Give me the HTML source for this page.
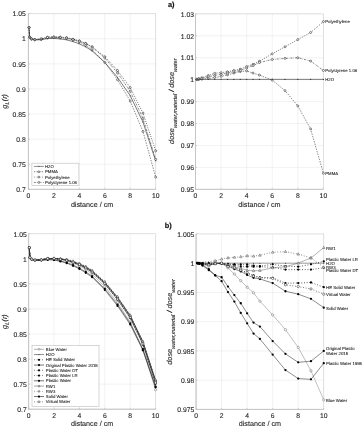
<!DOCTYPE html>
<html><head><meta charset="utf-8"><title>figure</title>
<style>
html,body{margin:0;padding:0;background:#fff;}
body{width:363px;height:430px;overflow:hidden;font-family:"Liberation Sans",sans-serif;}
svg{display:block;font-family:"Liberation Sans",sans-serif;text-rendering:geometricPrecision;}
</style></head><body>
<svg width="363" height="430" viewBox="0 0 363 430">
<defs><filter id="bl" x="0" y="0" width="363" height="430" filterUnits="userSpaceOnUse"><feGaussianBlur stdDeviation="0.45"/></filter></defs>
<rect width="363" height="430" fill="#fff"/>
<g filter="url(#bl)">
<rect width="363" height="430" fill="#fff"/>
<line x1="28.40" y1="13.7" x2="28.40" y2="189.3" stroke="#e4e4e4" stroke-width="0.5"/>
<line x1="53.86" y1="13.7" x2="53.86" y2="189.3" stroke="#e4e4e4" stroke-width="0.5"/>
<line x1="79.32" y1="13.7" x2="79.32" y2="189.3" stroke="#e4e4e4" stroke-width="0.5"/>
<line x1="104.78" y1="13.7" x2="104.78" y2="189.3" stroke="#e4e4e4" stroke-width="0.5"/>
<line x1="130.24" y1="13.7" x2="130.24" y2="189.3" stroke="#e4e4e4" stroke-width="0.5"/>
<line x1="155.70" y1="13.7" x2="155.70" y2="189.3" stroke="#e4e4e4" stroke-width="0.5"/>
<line x1="28.4" y1="189.30" x2="155.7" y2="189.30" stroke="#e4e4e4" stroke-width="0.5"/>
<line x1="28.4" y1="164.21" x2="155.7" y2="164.21" stroke="#e4e4e4" stroke-width="0.5"/>
<line x1="28.4" y1="139.13" x2="155.7" y2="139.13" stroke="#e4e4e4" stroke-width="0.5"/>
<line x1="28.4" y1="114.04" x2="155.7" y2="114.04" stroke="#e4e4e4" stroke-width="0.5"/>
<line x1="28.4" y1="88.96" x2="155.7" y2="88.96" stroke="#e4e4e4" stroke-width="0.5"/>
<line x1="28.4" y1="63.87" x2="155.7" y2="63.87" stroke="#e4e4e4" stroke-width="0.5"/>
<line x1="28.4" y1="38.79" x2="155.7" y2="38.79" stroke="#e4e4e4" stroke-width="0.5"/>
<line x1="28.4" y1="13.70" x2="155.7" y2="13.70" stroke="#e4e4e4" stroke-width="0.5"/>
<rect x="28.4" y="13.7" width="127.30" height="175.60" fill="none" stroke="#cfcfcf" stroke-width="0.5"/>
<path d="M28.4 13.7V189.3H155.7" fill="none" stroke="#c2c2c2" stroke-width="0.9"/>
<line x1="28.40" y1="189.3" x2="28.40" y2="187.8" stroke="#bcbcbc" stroke-width="0.6"/>
<text x="28.40" y="197.70" font-size="6.8" text-anchor="middle" fill="#262626" stroke="#262626" stroke-width="0.1">0</text>
<line x1="53.86" y1="189.3" x2="53.86" y2="187.8" stroke="#bcbcbc" stroke-width="0.6"/>
<text x="53.86" y="197.70" font-size="6.8" text-anchor="middle" fill="#262626" stroke="#262626" stroke-width="0.1">2</text>
<line x1="79.32" y1="189.3" x2="79.32" y2="187.8" stroke="#bcbcbc" stroke-width="0.6"/>
<text x="79.32" y="197.70" font-size="6.8" text-anchor="middle" fill="#262626" stroke="#262626" stroke-width="0.1">4</text>
<line x1="104.78" y1="189.3" x2="104.78" y2="187.8" stroke="#bcbcbc" stroke-width="0.6"/>
<text x="104.78" y="197.70" font-size="6.8" text-anchor="middle" fill="#262626" stroke="#262626" stroke-width="0.1">6</text>
<line x1="130.24" y1="189.3" x2="130.24" y2="187.8" stroke="#bcbcbc" stroke-width="0.6"/>
<text x="130.24" y="197.70" font-size="6.8" text-anchor="middle" fill="#262626" stroke="#262626" stroke-width="0.1">8</text>
<line x1="155.70" y1="189.3" x2="155.70" y2="187.8" stroke="#bcbcbc" stroke-width="0.6"/>
<text x="155.70" y="197.70" font-size="6.8" text-anchor="middle" fill="#262626" stroke="#262626" stroke-width="0.1">10</text>
<line x1="28.4" y1="189.30" x2="29.9" y2="189.30" stroke="#bcbcbc" stroke-width="0.6"/>
<text x="25.80" y="192.00" font-size="6.8" text-anchor="end" fill="#262626" stroke="#262626" stroke-width="0.1">0.7</text>
<line x1="28.4" y1="164.21" x2="29.9" y2="164.21" stroke="#bcbcbc" stroke-width="0.6"/>
<text x="25.80" y="166.91" font-size="6.8" text-anchor="end" fill="#262626" stroke="#262626" stroke-width="0.1">0.75</text>
<line x1="28.4" y1="139.13" x2="29.9" y2="139.13" stroke="#bcbcbc" stroke-width="0.6"/>
<text x="25.80" y="141.83" font-size="6.8" text-anchor="end" fill="#262626" stroke="#262626" stroke-width="0.1">0.8</text>
<line x1="28.4" y1="114.04" x2="29.9" y2="114.04" stroke="#bcbcbc" stroke-width="0.6"/>
<text x="25.80" y="116.74" font-size="6.8" text-anchor="end" fill="#262626" stroke="#262626" stroke-width="0.1">0.85</text>
<line x1="28.4" y1="88.96" x2="29.9" y2="88.96" stroke="#bcbcbc" stroke-width="0.6"/>
<text x="25.80" y="91.66" font-size="6.8" text-anchor="end" fill="#262626" stroke="#262626" stroke-width="0.1">0.9</text>
<line x1="28.4" y1="63.87" x2="29.9" y2="63.87" stroke="#bcbcbc" stroke-width="0.6"/>
<text x="25.80" y="66.57" font-size="6.8" text-anchor="end" fill="#262626" stroke="#262626" stroke-width="0.1">0.95</text>
<line x1="28.4" y1="38.79" x2="29.9" y2="38.79" stroke="#bcbcbc" stroke-width="0.6"/>
<text x="25.80" y="41.49" font-size="6.8" text-anchor="end" fill="#262626" stroke="#262626" stroke-width="0.1">1</text>
<line x1="28.4" y1="13.70" x2="29.9" y2="13.70" stroke="#bcbcbc" stroke-width="0.6"/>
<text x="25.80" y="16.40" font-size="6.8" text-anchor="end" fill="#262626" stroke="#262626" stroke-width="0.1">1.05</text>
<text x="92.05" y="207.00" font-size="7.2" text-anchor="middle" fill="#262626" stroke="#262626" stroke-width="0.1">distance / cm</text>
<polyline points="29.04,27.50 29.67,37.28 31.58,39.09 34.77,39.84 41.13,39.44 47.49,38.03 53.86,37.63 60.22,37.78 66.59,38.29 72.95,39.70 79.32,41.82 85.69,45.33 92.05,49.80 104.78,62.46 117.51,79.73 130.24,101.07 142.97,131.48 155.70,177.16" fill="none" stroke="#222" stroke-width="0.55" stroke-dasharray="1.4 1.2"/>
<polyline points="29.04,27.50 29.67,37.18 31.58,38.89 34.77,39.49 41.13,38.74 47.49,37.08 53.86,36.78 60.22,37.08 66.59,37.69 72.95,39.15 79.32,40.82 85.69,43.36 92.05,46.71 104.78,56.72 117.51,70.47 130.24,87.59 142.97,113.07 155.70,150.90" fill="none" stroke="#222" stroke-width="0.8" stroke-dasharray="0.8 1.5"/>
<polyline points="29.04,27.50 29.67,37.23 31.58,38.99 34.77,39.64 41.13,39.04 47.49,37.53 53.86,37.18 60.22,37.38 66.59,37.99 72.95,39.45 79.32,41.17 85.69,43.65 92.05,47.01 104.78,57.97 117.51,72.93 130.24,91.28 142.97,118.51 155.70,159.36" fill="none" stroke="#222" stroke-width="0.55" stroke-dasharray="2 1 0.6 1"/>
<polyline points="29.04,27.50 29.67,37.28 31.58,39.14 34.77,39.94 41.13,39.69 47.49,38.53 53.86,38.38 60.22,38.89 66.59,39.79 72.95,41.55 79.32,43.80 85.69,46.81 92.05,50.83 104.78,62.37 117.51,77.42 130.24,95.73 142.97,122.07 155.70,160.95" fill="none" stroke="#333" stroke-width="0.65"/>
<circle cx="29.04" cy="27.50" r="1.0" fill="#fff" stroke="#222" stroke-width="0.55"/>
<circle cx="29.67" cy="37.28" r="1.0" fill="#fff" stroke="#222" stroke-width="0.55"/>
<circle cx="31.58" cy="39.09" r="1.0" fill="#fff" stroke="#222" stroke-width="0.55"/>
<circle cx="34.77" cy="39.84" r="1.0" fill="#fff" stroke="#222" stroke-width="0.55"/>
<circle cx="41.13" cy="39.44" r="1.0" fill="#fff" stroke="#222" stroke-width="0.55"/>
<circle cx="47.49" cy="38.03" r="1.0" fill="#fff" stroke="#222" stroke-width="0.55"/>
<circle cx="53.86" cy="37.63" r="1.0" fill="#fff" stroke="#222" stroke-width="0.55"/>
<circle cx="60.22" cy="37.78" r="1.0" fill="#fff" stroke="#222" stroke-width="0.55"/>
<circle cx="66.59" cy="38.29" r="1.0" fill="#fff" stroke="#222" stroke-width="0.55"/>
<circle cx="72.95" cy="39.70" r="1.0" fill="#fff" stroke="#222" stroke-width="0.55"/>
<circle cx="79.32" cy="41.82" r="1.0" fill="#fff" stroke="#222" stroke-width="0.55"/>
<circle cx="85.69" cy="45.33" r="1.0" fill="#fff" stroke="#222" stroke-width="0.55"/>
<circle cx="92.05" cy="49.80" r="1.0" fill="#fff" stroke="#222" stroke-width="0.55"/>
<circle cx="104.78" cy="62.46" r="1.0" fill="#fff" stroke="#222" stroke-width="0.55"/>
<circle cx="117.51" cy="79.73" r="1.0" fill="#fff" stroke="#222" stroke-width="0.55"/>
<circle cx="130.24" cy="101.07" r="1.0" fill="#fff" stroke="#222" stroke-width="0.55"/>
<circle cx="142.97" cy="131.48" r="1.0" fill="#fff" stroke="#222" stroke-width="0.55"/>
<circle cx="155.70" cy="177.16" r="1.0" fill="#fff" stroke="#222" stroke-width="0.55"/>
<circle cx="29.04" cy="27.50" r="1.0" fill="#fff" stroke="#222" stroke-width="0.55"/>
<circle cx="29.67" cy="37.18" r="1.0" fill="#fff" stroke="#222" stroke-width="0.55"/>
<circle cx="31.58" cy="38.89" r="1.0" fill="#fff" stroke="#222" stroke-width="0.55"/>
<circle cx="34.77" cy="39.49" r="1.0" fill="#fff" stroke="#222" stroke-width="0.55"/>
<circle cx="41.13" cy="38.74" r="1.0" fill="#fff" stroke="#222" stroke-width="0.55"/>
<circle cx="47.49" cy="37.08" r="1.0" fill="#fff" stroke="#222" stroke-width="0.55"/>
<circle cx="53.86" cy="36.78" r="1.0" fill="#fff" stroke="#222" stroke-width="0.55"/>
<circle cx="60.22" cy="37.08" r="1.0" fill="#fff" stroke="#222" stroke-width="0.55"/>
<circle cx="66.59" cy="37.69" r="1.0" fill="#fff" stroke="#222" stroke-width="0.55"/>
<circle cx="72.95" cy="39.15" r="1.0" fill="#fff" stroke="#222" stroke-width="0.55"/>
<circle cx="79.32" cy="40.82" r="1.0" fill="#fff" stroke="#222" stroke-width="0.55"/>
<circle cx="85.69" cy="43.36" r="1.0" fill="#fff" stroke="#222" stroke-width="0.55"/>
<circle cx="92.05" cy="46.71" r="1.0" fill="#fff" stroke="#222" stroke-width="0.55"/>
<circle cx="104.78" cy="56.72" r="1.0" fill="#fff" stroke="#222" stroke-width="0.55"/>
<circle cx="117.51" cy="70.47" r="1.0" fill="#fff" stroke="#222" stroke-width="0.55"/>
<circle cx="130.24" cy="87.59" r="1.0" fill="#fff" stroke="#222" stroke-width="0.55"/>
<circle cx="142.97" cy="113.07" r="1.0" fill="#fff" stroke="#222" stroke-width="0.55"/>
<circle cx="155.70" cy="150.90" r="1.0" fill="#fff" stroke="#222" stroke-width="0.55"/>
<circle cx="29.04" cy="27.50" r="1.0" fill="#fff" stroke="#222" stroke-width="0.55"/>
<circle cx="29.67" cy="37.23" r="1.0" fill="#fff" stroke="#222" stroke-width="0.55"/>
<circle cx="31.58" cy="38.99" r="1.0" fill="#fff" stroke="#222" stroke-width="0.55"/>
<circle cx="34.77" cy="39.64" r="1.0" fill="#fff" stroke="#222" stroke-width="0.55"/>
<circle cx="41.13" cy="39.04" r="1.0" fill="#fff" stroke="#222" stroke-width="0.55"/>
<circle cx="47.49" cy="37.53" r="1.0" fill="#fff" stroke="#222" stroke-width="0.55"/>
<circle cx="53.86" cy="37.18" r="1.0" fill="#fff" stroke="#222" stroke-width="0.55"/>
<circle cx="60.22" cy="37.38" r="1.0" fill="#fff" stroke="#222" stroke-width="0.55"/>
<circle cx="66.59" cy="37.99" r="1.0" fill="#fff" stroke="#222" stroke-width="0.55"/>
<circle cx="72.95" cy="39.45" r="1.0" fill="#fff" stroke="#222" stroke-width="0.55"/>
<circle cx="79.32" cy="41.17" r="1.0" fill="#fff" stroke="#222" stroke-width="0.55"/>
<circle cx="85.69" cy="43.65" r="1.0" fill="#fff" stroke="#222" stroke-width="0.55"/>
<circle cx="92.05" cy="47.01" r="1.0" fill="#fff" stroke="#222" stroke-width="0.55"/>
<circle cx="104.78" cy="57.97" r="1.0" fill="#fff" stroke="#222" stroke-width="0.55"/>
<circle cx="117.51" cy="72.93" r="1.0" fill="#fff" stroke="#222" stroke-width="0.55"/>
<circle cx="130.24" cy="91.28" r="1.0" fill="#fff" stroke="#222" stroke-width="0.55"/>
<circle cx="142.97" cy="118.51" r="1.0" fill="#fff" stroke="#222" stroke-width="0.55"/>
<circle cx="155.70" cy="159.36" r="1.0" fill="#fff" stroke="#222" stroke-width="0.55"/>
<path d="M28.48 26.94l1.12 1.12M28.48 28.06l1.12 -1.12" stroke="#333" stroke-width="0.4" fill="none"/>
<path d="M29.11 36.72l1.12 1.12M29.11 37.84l1.12 -1.12" stroke="#333" stroke-width="0.4" fill="none"/>
<path d="M31.02 38.58l1.12 1.12M31.02 39.70l1.12 -1.12" stroke="#333" stroke-width="0.4" fill="none"/>
<path d="M34.20 39.38l1.12 1.12M34.20 40.50l1.12 -1.12" stroke="#333" stroke-width="0.4" fill="none"/>
<path d="M40.57 39.13l1.12 1.12M40.57 40.25l1.12 -1.12" stroke="#333" stroke-width="0.4" fill="none"/>
<path d="M46.93 37.97l1.12 1.12M46.93 39.09l1.12 -1.12" stroke="#333" stroke-width="0.4" fill="none"/>
<path d="M53.30 37.82l1.12 1.12M53.30 38.94l1.12 -1.12" stroke="#333" stroke-width="0.4" fill="none"/>
<path d="M59.66 38.33l1.12 1.12M59.66 39.45l1.12 -1.12" stroke="#333" stroke-width="0.4" fill="none"/>
<path d="M66.03 39.23l1.12 1.12M66.03 40.35l1.12 -1.12" stroke="#333" stroke-width="0.4" fill="none"/>
<path d="M72.39 40.99l1.12 1.12M72.39 42.11l1.12 -1.12" stroke="#333" stroke-width="0.4" fill="none"/>
<path d="M78.76 43.24l1.12 1.12M78.76 44.36l1.12 -1.12" stroke="#333" stroke-width="0.4" fill="none"/>
<path d="M85.12 46.25l1.12 1.12M85.12 47.37l1.12 -1.12" stroke="#333" stroke-width="0.4" fill="none"/>
<path d="M91.49 50.27l1.12 1.12M91.49 51.39l1.12 -1.12" stroke="#333" stroke-width="0.4" fill="none"/>
<path d="M104.22 61.81l1.12 1.12M104.22 62.93l1.12 -1.12" stroke="#333" stroke-width="0.4" fill="none"/>
<path d="M116.95 76.86l1.12 1.12M116.95 77.98l1.12 -1.12" stroke="#333" stroke-width="0.4" fill="none"/>
<path d="M129.68 95.17l1.12 1.12M129.68 96.29l1.12 -1.12" stroke="#333" stroke-width="0.4" fill="none"/>
<path d="M142.41 121.51l1.12 1.12M142.41 122.63l1.12 -1.12" stroke="#333" stroke-width="0.4" fill="none"/>
<path d="M155.14 160.39l1.12 1.12M155.14 161.51l1.12 -1.12" stroke="#333" stroke-width="0.4" fill="none"/>
<rect x="31.9" y="163.2" width="47" height="22.4" fill="#fff" stroke="#bcbcbc" stroke-width="0.6"/>
<line x1="33.9" y1="166.40" x2="43.9" y2="166.40" stroke="#333" stroke-width="0.55"/>
<path d="M38.23 165.74l1.33 1.33M38.23 167.06l1.33 -1.33" stroke="#333" stroke-width="0.4" fill="none"/>
<text x="45.00" y="167.95" font-size="4.3" fill="#1a1a1a" stroke="#1a1a1a" stroke-width="0.08">H2O</text>
<line x1="33.9" y1="171.75" x2="43.9" y2="171.75" stroke="#222" stroke-width="0.55" stroke-dasharray="1.4 1.2"/>
<circle cx="38.90" cy="171.75" r="0.95" fill="#fff" stroke="#222" stroke-width="0.55"/>
<text x="45.00" y="173.30" font-size="4.3" fill="#1a1a1a" stroke="#1a1a1a" stroke-width="0.08">PMMA</text>
<line x1="33.9" y1="177.10" x2="43.9" y2="177.10" stroke="#222" stroke-width="0.55" stroke-dasharray="0.9 1.8"/>
<circle cx="38.90" cy="177.10" r="0.95" fill="#fff" stroke="#222" stroke-width="0.55"/>
<text x="45.00" y="178.65" font-size="4.3" fill="#1a1a1a" stroke="#1a1a1a" stroke-width="0.08">Polyethylene</text>
<line x1="33.9" y1="182.45" x2="43.9" y2="182.45" stroke="#222" stroke-width="0.55" stroke-dasharray="2 1 0.6 1"/>
<circle cx="38.90" cy="182.45" r="0.95" fill="#fff" stroke="#222" stroke-width="0.55"/>
<text x="45.00" y="184.00" font-size="4.3" fill="#1a1a1a" stroke="#1a1a1a" stroke-width="0.08">Polystyrene 1.06</text>
<line x1="195.50" y1="13.9" x2="195.50" y2="189.3" stroke="#e4e4e4" stroke-width="0.5"/>
<line x1="221.08" y1="13.9" x2="221.08" y2="189.3" stroke="#e4e4e4" stroke-width="0.5"/>
<line x1="246.66" y1="13.9" x2="246.66" y2="189.3" stroke="#e4e4e4" stroke-width="0.5"/>
<line x1="272.24" y1="13.9" x2="272.24" y2="189.3" stroke="#e4e4e4" stroke-width="0.5"/>
<line x1="297.82" y1="13.9" x2="297.82" y2="189.3" stroke="#e4e4e4" stroke-width="0.5"/>
<line x1="323.40" y1="13.9" x2="323.40" y2="189.3" stroke="#e4e4e4" stroke-width="0.5"/>
<line x1="195.5" y1="189.30" x2="323.4" y2="189.30" stroke="#e4e4e4" stroke-width="0.5"/>
<line x1="195.5" y1="167.38" x2="323.4" y2="167.38" stroke="#e4e4e4" stroke-width="0.5"/>
<line x1="195.5" y1="145.45" x2="323.4" y2="145.45" stroke="#e4e4e4" stroke-width="0.5"/>
<line x1="195.5" y1="123.53" x2="323.4" y2="123.53" stroke="#e4e4e4" stroke-width="0.5"/>
<line x1="195.5" y1="101.60" x2="323.4" y2="101.60" stroke="#e4e4e4" stroke-width="0.5"/>
<line x1="195.5" y1="79.68" x2="323.4" y2="79.68" stroke="#e4e4e4" stroke-width="0.5"/>
<line x1="195.5" y1="57.75" x2="323.4" y2="57.75" stroke="#e4e4e4" stroke-width="0.5"/>
<line x1="195.5" y1="35.83" x2="323.4" y2="35.83" stroke="#e4e4e4" stroke-width="0.5"/>
<line x1="195.5" y1="13.90" x2="323.4" y2="13.90" stroke="#e4e4e4" stroke-width="0.5"/>
<rect x="195.5" y="13.9" width="127.90" height="175.40" fill="none" stroke="#cfcfcf" stroke-width="0.5"/>
<path d="M195.5 13.9V189.3H323.4" fill="none" stroke="#c2c2c2" stroke-width="0.9"/>
<line x1="195.50" y1="189.3" x2="195.50" y2="187.8" stroke="#bcbcbc" stroke-width="0.6"/>
<text x="195.50" y="197.70" font-size="6.8" text-anchor="middle" fill="#262626" stroke="#262626" stroke-width="0.1">0</text>
<line x1="221.08" y1="189.3" x2="221.08" y2="187.8" stroke="#bcbcbc" stroke-width="0.6"/>
<text x="221.08" y="197.70" font-size="6.8" text-anchor="middle" fill="#262626" stroke="#262626" stroke-width="0.1">2</text>
<line x1="246.66" y1="189.3" x2="246.66" y2="187.8" stroke="#bcbcbc" stroke-width="0.6"/>
<text x="246.66" y="197.70" font-size="6.8" text-anchor="middle" fill="#262626" stroke="#262626" stroke-width="0.1">4</text>
<line x1="272.24" y1="189.3" x2="272.24" y2="187.8" stroke="#bcbcbc" stroke-width="0.6"/>
<text x="272.24" y="197.70" font-size="6.8" text-anchor="middle" fill="#262626" stroke="#262626" stroke-width="0.1">6</text>
<line x1="297.82" y1="189.3" x2="297.82" y2="187.8" stroke="#bcbcbc" stroke-width="0.6"/>
<text x="297.82" y="197.70" font-size="6.8" text-anchor="middle" fill="#262626" stroke="#262626" stroke-width="0.1">8</text>
<line x1="323.40" y1="189.3" x2="323.40" y2="187.8" stroke="#bcbcbc" stroke-width="0.6"/>
<text x="323.40" y="197.70" font-size="6.8" text-anchor="middle" fill="#262626" stroke="#262626" stroke-width="0.1">10</text>
<line x1="195.5" y1="189.30" x2="197.0" y2="189.30" stroke="#bcbcbc" stroke-width="0.6"/>
<text x="194.10" y="192.00" font-size="6.8" text-anchor="end" fill="#262626" stroke="#262626" stroke-width="0.1">0.95</text>
<line x1="195.5" y1="167.38" x2="197.0" y2="167.38" stroke="#bcbcbc" stroke-width="0.6"/>
<text x="194.10" y="170.07" font-size="6.8" text-anchor="end" fill="#262626" stroke="#262626" stroke-width="0.1">0.96</text>
<line x1="195.5" y1="145.45" x2="197.0" y2="145.45" stroke="#bcbcbc" stroke-width="0.6"/>
<text x="194.10" y="148.15" font-size="6.8" text-anchor="end" fill="#262626" stroke="#262626" stroke-width="0.1">0.97</text>
<line x1="195.5" y1="123.53" x2="197.0" y2="123.53" stroke="#bcbcbc" stroke-width="0.6"/>
<text x="194.10" y="126.23" font-size="6.8" text-anchor="end" fill="#262626" stroke="#262626" stroke-width="0.1">0.98</text>
<line x1="195.5" y1="101.60" x2="197.0" y2="101.60" stroke="#bcbcbc" stroke-width="0.6"/>
<text x="194.10" y="104.30" font-size="6.8" text-anchor="end" fill="#262626" stroke="#262626" stroke-width="0.1">0.99</text>
<line x1="195.5" y1="79.68" x2="197.0" y2="79.68" stroke="#bcbcbc" stroke-width="0.6"/>
<text x="194.10" y="82.38" font-size="6.8" text-anchor="end" fill="#262626" stroke="#262626" stroke-width="0.1">1</text>
<line x1="195.5" y1="57.75" x2="197.0" y2="57.75" stroke="#bcbcbc" stroke-width="0.6"/>
<text x="194.10" y="60.45" font-size="6.8" text-anchor="end" fill="#262626" stroke="#262626" stroke-width="0.1">1.01</text>
<line x1="195.5" y1="35.83" x2="197.0" y2="35.83" stroke="#bcbcbc" stroke-width="0.6"/>
<text x="194.10" y="38.53" font-size="6.8" text-anchor="end" fill="#262626" stroke="#262626" stroke-width="0.1">1.02</text>
<line x1="195.5" y1="13.90" x2="197.0" y2="13.90" stroke="#bcbcbc" stroke-width="0.6"/>
<text x="194.10" y="16.60" font-size="6.8" text-anchor="end" fill="#262626" stroke="#262626" stroke-width="0.1">1.03</text>
<text x="259.45" y="207.00" font-size="7.2" text-anchor="middle" fill="#262626" stroke="#262626" stroke-width="0.1">distance / cm</text>
<polyline points="196.78,79.68 198.70,79.46 201.90,79.24 208.29,78.58 214.69,77.48 221.08,76.39 227.47,74.85 233.87,73.10 240.26,71.56 246.66,70.91 253.06,73.10 259.45,75.07 272.24,80.11 285.03,90.64 297.82,105.99 310.61,129.01 323.40,173.29" fill="none" stroke="#222" stroke-width="0.55" stroke-dasharray="1.4 1.2"/>
<polyline points="196.78,79.24 198.70,78.58 201.90,77.70 208.29,75.51 214.69,73.32 221.08,72.66 227.47,71.78 233.87,70.47 240.26,69.15 246.66,66.52 253.06,64.33 259.45,61.26 272.24,53.80 285.03,46.79 297.82,39.55 310.61,32.54 323.40,21.57" fill="none" stroke="#222" stroke-width="0.8" stroke-dasharray="0.8 1.5"/>
<polyline points="196.78,79.46 198.70,79.02 201.90,78.36 208.29,76.82 214.69,75.29 221.08,74.41 227.47,73.10 233.87,71.78 240.26,70.47 246.66,68.05 253.06,65.64 259.45,62.57 272.24,59.50 285.03,58.41 297.82,57.75 310.61,61.04 323.40,70.47" fill="none" stroke="#222" stroke-width="0.55" stroke-dasharray="2 1 0.6 1"/>
<polyline points="195.50,79.35 323.40,79.35" fill="none" stroke="#333" stroke-width="0.65"/>
<circle cx="196.78" cy="79.68" r="1.0" fill="#fff" stroke="#222" stroke-width="0.55"/>
<circle cx="198.70" cy="79.46" r="1.0" fill="#fff" stroke="#222" stroke-width="0.55"/>
<circle cx="201.90" cy="79.24" r="1.0" fill="#fff" stroke="#222" stroke-width="0.55"/>
<circle cx="208.29" cy="78.58" r="1.0" fill="#fff" stroke="#222" stroke-width="0.55"/>
<circle cx="214.69" cy="77.48" r="1.0" fill="#fff" stroke="#222" stroke-width="0.55"/>
<circle cx="221.08" cy="76.39" r="1.0" fill="#fff" stroke="#222" stroke-width="0.55"/>
<circle cx="227.47" cy="74.85" r="1.0" fill="#fff" stroke="#222" stroke-width="0.55"/>
<circle cx="233.87" cy="73.10" r="1.0" fill="#fff" stroke="#222" stroke-width="0.55"/>
<circle cx="240.26" cy="71.56" r="1.0" fill="#fff" stroke="#222" stroke-width="0.55"/>
<circle cx="246.66" cy="70.91" r="1.0" fill="#fff" stroke="#222" stroke-width="0.55"/>
<circle cx="253.06" cy="73.10" r="1.0" fill="#fff" stroke="#222" stroke-width="0.55"/>
<circle cx="259.45" cy="75.07" r="1.0" fill="#fff" stroke="#222" stroke-width="0.55"/>
<circle cx="272.24" cy="80.11" r="1.0" fill="#fff" stroke="#222" stroke-width="0.55"/>
<circle cx="285.03" cy="90.64" r="1.0" fill="#fff" stroke="#222" stroke-width="0.55"/>
<circle cx="297.82" cy="105.99" r="1.0" fill="#fff" stroke="#222" stroke-width="0.55"/>
<circle cx="310.61" cy="129.01" r="1.0" fill="#fff" stroke="#222" stroke-width="0.55"/>
<circle cx="323.40" cy="173.29" r="1.0" fill="#fff" stroke="#222" stroke-width="0.55"/>
<circle cx="196.78" cy="79.24" r="1.0" fill="#fff" stroke="#222" stroke-width="0.55"/>
<circle cx="198.70" cy="78.58" r="1.0" fill="#fff" stroke="#222" stroke-width="0.55"/>
<circle cx="201.90" cy="77.70" r="1.0" fill="#fff" stroke="#222" stroke-width="0.55"/>
<circle cx="208.29" cy="75.51" r="1.0" fill="#fff" stroke="#222" stroke-width="0.55"/>
<circle cx="214.69" cy="73.32" r="1.0" fill="#fff" stroke="#222" stroke-width="0.55"/>
<circle cx="221.08" cy="72.66" r="1.0" fill="#fff" stroke="#222" stroke-width="0.55"/>
<circle cx="227.47" cy="71.78" r="1.0" fill="#fff" stroke="#222" stroke-width="0.55"/>
<circle cx="233.87" cy="70.47" r="1.0" fill="#fff" stroke="#222" stroke-width="0.55"/>
<circle cx="240.26" cy="69.15" r="1.0" fill="#fff" stroke="#222" stroke-width="0.55"/>
<circle cx="246.66" cy="66.52" r="1.0" fill="#fff" stroke="#222" stroke-width="0.55"/>
<circle cx="253.06" cy="64.33" r="1.0" fill="#fff" stroke="#222" stroke-width="0.55"/>
<circle cx="259.45" cy="61.26" r="1.0" fill="#fff" stroke="#222" stroke-width="0.55"/>
<circle cx="272.24" cy="53.80" r="1.0" fill="#fff" stroke="#222" stroke-width="0.55"/>
<circle cx="285.03" cy="46.79" r="1.0" fill="#fff" stroke="#222" stroke-width="0.55"/>
<circle cx="297.82" cy="39.55" r="1.0" fill="#fff" stroke="#222" stroke-width="0.55"/>
<circle cx="310.61" cy="32.54" r="1.0" fill="#fff" stroke="#222" stroke-width="0.55"/>
<circle cx="323.40" cy="21.57" r="1.0" fill="#fff" stroke="#222" stroke-width="0.55"/>
<circle cx="196.78" cy="79.46" r="1.0" fill="#fff" stroke="#222" stroke-width="0.55"/>
<circle cx="198.70" cy="79.02" r="1.0" fill="#fff" stroke="#222" stroke-width="0.55"/>
<circle cx="201.90" cy="78.36" r="1.0" fill="#fff" stroke="#222" stroke-width="0.55"/>
<circle cx="208.29" cy="76.82" r="1.0" fill="#fff" stroke="#222" stroke-width="0.55"/>
<circle cx="214.69" cy="75.29" r="1.0" fill="#fff" stroke="#222" stroke-width="0.55"/>
<circle cx="221.08" cy="74.41" r="1.0" fill="#fff" stroke="#222" stroke-width="0.55"/>
<circle cx="227.47" cy="73.10" r="1.0" fill="#fff" stroke="#222" stroke-width="0.55"/>
<circle cx="233.87" cy="71.78" r="1.0" fill="#fff" stroke="#222" stroke-width="0.55"/>
<circle cx="240.26" cy="70.47" r="1.0" fill="#fff" stroke="#222" stroke-width="0.55"/>
<circle cx="246.66" cy="68.05" r="1.0" fill="#fff" stroke="#222" stroke-width="0.55"/>
<circle cx="253.06" cy="65.64" r="1.0" fill="#fff" stroke="#222" stroke-width="0.55"/>
<circle cx="259.45" cy="62.57" r="1.0" fill="#fff" stroke="#222" stroke-width="0.55"/>
<circle cx="272.24" cy="59.50" r="1.0" fill="#fff" stroke="#222" stroke-width="0.55"/>
<circle cx="285.03" cy="58.41" r="1.0" fill="#fff" stroke="#222" stroke-width="0.55"/>
<circle cx="297.82" cy="57.75" r="1.0" fill="#fff" stroke="#222" stroke-width="0.55"/>
<circle cx="310.61" cy="61.04" r="1.0" fill="#fff" stroke="#222" stroke-width="0.55"/>
<circle cx="323.40" cy="70.47" r="1.0" fill="#fff" stroke="#222" stroke-width="0.55"/>
<circle cx="196.78" cy="79.35" r="0.7" fill="#333"/>
<circle cx="198.70" cy="79.35" r="0.7" fill="#333"/>
<circle cx="201.90" cy="79.35" r="0.7" fill="#333"/>
<circle cx="208.29" cy="79.35" r="0.7" fill="#333"/>
<circle cx="214.69" cy="79.35" r="0.7" fill="#333"/>
<circle cx="221.08" cy="79.35" r="0.7" fill="#333"/>
<circle cx="227.47" cy="79.35" r="0.7" fill="#333"/>
<circle cx="233.87" cy="79.35" r="0.7" fill="#333"/>
<circle cx="240.26" cy="79.35" r="0.7" fill="#333"/>
<circle cx="246.66" cy="79.35" r="0.7" fill="#333"/>
<circle cx="253.06" cy="79.35" r="0.7" fill="#333"/>
<circle cx="259.45" cy="79.35" r="0.7" fill="#333"/>
<circle cx="272.24" cy="79.35" r="0.7" fill="#333"/>
<circle cx="285.03" cy="79.35" r="0.7" fill="#333"/>
<circle cx="297.82" cy="79.35" r="0.7" fill="#333"/>
<circle cx="310.61" cy="79.35" r="0.7" fill="#333"/>
<circle cx="323.40" cy="79.35" r="0.7" fill="#333"/>
<text x="325.20" y="23.07" font-size="4.3" fill="#1a1a1a" stroke="#1a1a1a" stroke-width="0.08">Polyethylene</text>
<text x="325.20" y="71.97" font-size="4.3" fill="#1a1a1a" stroke="#1a1a1a" stroke-width="0.08">Polystyrene 1.06</text>
<text x="325.20" y="81.18" font-size="4.3" fill="#1a1a1a" stroke="#1a1a1a" stroke-width="0.08">H2O</text>
<text x="325.20" y="174.79" font-size="4.3" fill="#1a1a1a" stroke="#1a1a1a" stroke-width="0.08">PMMA</text>
<line x1="28.65" y1="233.8" x2="28.65" y2="409.2" stroke="#e4e4e4" stroke-width="0.5"/>
<line x1="54.04" y1="233.8" x2="54.04" y2="409.2" stroke="#e4e4e4" stroke-width="0.5"/>
<line x1="79.43" y1="233.8" x2="79.43" y2="409.2" stroke="#e4e4e4" stroke-width="0.5"/>
<line x1="104.82" y1="233.8" x2="104.82" y2="409.2" stroke="#e4e4e4" stroke-width="0.5"/>
<line x1="130.21" y1="233.8" x2="130.21" y2="409.2" stroke="#e4e4e4" stroke-width="0.5"/>
<line x1="155.60" y1="233.8" x2="155.60" y2="409.2" stroke="#e4e4e4" stroke-width="0.5"/>
<line x1="28.65" y1="409.20" x2="155.6" y2="409.20" stroke="#e4e4e4" stroke-width="0.5"/>
<line x1="28.65" y1="384.14" x2="155.6" y2="384.14" stroke="#e4e4e4" stroke-width="0.5"/>
<line x1="28.65" y1="359.09" x2="155.6" y2="359.09" stroke="#e4e4e4" stroke-width="0.5"/>
<line x1="28.65" y1="334.03" x2="155.6" y2="334.03" stroke="#e4e4e4" stroke-width="0.5"/>
<line x1="28.65" y1="308.97" x2="155.6" y2="308.97" stroke="#e4e4e4" stroke-width="0.5"/>
<line x1="28.65" y1="283.91" x2="155.6" y2="283.91" stroke="#e4e4e4" stroke-width="0.5"/>
<line x1="28.65" y1="258.86" x2="155.6" y2="258.86" stroke="#e4e4e4" stroke-width="0.5"/>
<line x1="28.65" y1="233.80" x2="155.6" y2="233.80" stroke="#e4e4e4" stroke-width="0.5"/>
<rect x="28.65" y="233.8" width="126.95" height="175.40" fill="none" stroke="#cfcfcf" stroke-width="0.5"/>
<path d="M28.65 233.8V409.2H155.6" fill="none" stroke="#c2c2c2" stroke-width="0.9"/>
<line x1="28.65" y1="409.2" x2="28.65" y2="407.7" stroke="#bcbcbc" stroke-width="0.6"/>
<text x="28.65" y="418.40" font-size="6.8" text-anchor="middle" fill="#262626" stroke="#262626" stroke-width="0.1">0</text>
<line x1="54.04" y1="409.2" x2="54.04" y2="407.7" stroke="#bcbcbc" stroke-width="0.6"/>
<text x="54.04" y="418.40" font-size="6.8" text-anchor="middle" fill="#262626" stroke="#262626" stroke-width="0.1">2</text>
<line x1="79.43" y1="409.2" x2="79.43" y2="407.7" stroke="#bcbcbc" stroke-width="0.6"/>
<text x="79.43" y="418.40" font-size="6.8" text-anchor="middle" fill="#262626" stroke="#262626" stroke-width="0.1">4</text>
<line x1="104.82" y1="409.2" x2="104.82" y2="407.7" stroke="#bcbcbc" stroke-width="0.6"/>
<text x="104.82" y="418.40" font-size="6.8" text-anchor="middle" fill="#262626" stroke="#262626" stroke-width="0.1">6</text>
<line x1="130.21" y1="409.2" x2="130.21" y2="407.7" stroke="#bcbcbc" stroke-width="0.6"/>
<text x="130.21" y="418.40" font-size="6.8" text-anchor="middle" fill="#262626" stroke="#262626" stroke-width="0.1">8</text>
<line x1="155.60" y1="409.2" x2="155.60" y2="407.7" stroke="#bcbcbc" stroke-width="0.6"/>
<text x="155.60" y="418.40" font-size="6.8" text-anchor="middle" fill="#262626" stroke="#262626" stroke-width="0.1">10</text>
<line x1="28.65" y1="409.20" x2="30.15" y2="409.20" stroke="#bcbcbc" stroke-width="0.6"/>
<text x="26.75" y="411.90" font-size="6.8" text-anchor="end" fill="#262626" stroke="#262626" stroke-width="0.1">0.7</text>
<line x1="28.65" y1="384.14" x2="30.15" y2="384.14" stroke="#bcbcbc" stroke-width="0.6"/>
<text x="26.75" y="386.84" font-size="6.8" text-anchor="end" fill="#262626" stroke="#262626" stroke-width="0.1">0.75</text>
<line x1="28.65" y1="359.09" x2="30.15" y2="359.09" stroke="#bcbcbc" stroke-width="0.6"/>
<text x="26.75" y="361.79" font-size="6.8" text-anchor="end" fill="#262626" stroke="#262626" stroke-width="0.1">0.8</text>
<line x1="28.65" y1="334.03" x2="30.15" y2="334.03" stroke="#bcbcbc" stroke-width="0.6"/>
<text x="26.75" y="336.73" font-size="6.8" text-anchor="end" fill="#262626" stroke="#262626" stroke-width="0.1">0.85</text>
<line x1="28.65" y1="308.97" x2="30.15" y2="308.97" stroke="#bcbcbc" stroke-width="0.6"/>
<text x="26.75" y="311.67" font-size="6.8" text-anchor="end" fill="#262626" stroke="#262626" stroke-width="0.1">0.9</text>
<line x1="28.65" y1="283.91" x2="30.15" y2="283.91" stroke="#bcbcbc" stroke-width="0.6"/>
<text x="26.75" y="286.61" font-size="6.8" text-anchor="end" fill="#262626" stroke="#262626" stroke-width="0.1">0.95</text>
<line x1="28.65" y1="258.86" x2="30.15" y2="258.86" stroke="#bcbcbc" stroke-width="0.6"/>
<text x="26.75" y="261.56" font-size="6.8" text-anchor="end" fill="#262626" stroke="#262626" stroke-width="0.1">1</text>
<line x1="28.65" y1="233.80" x2="30.15" y2="233.80" stroke="#bcbcbc" stroke-width="0.6"/>
<text x="26.75" y="236.50" font-size="6.8" text-anchor="end" fill="#262626" stroke="#262626" stroke-width="0.1">1.05</text>
<text x="92.12" y="426.20" font-size="7.2" text-anchor="middle" fill="#262626" stroke="#262626" stroke-width="0.1">distance / cm</text>
<polyline points="29.28,247.58 29.92,257.30 31.82,259.21 35.00,260.11 41.34,260.01 47.69,258.61 54.04,258.46 60.39,259.36 66.73,260.79 73.08,263.11 79.43,265.90 85.78,269.37 92.12,274.06 104.82,286.63 117.51,302.70 130.21,322.13 142.91,349.74 155.60,389.75" fill="none" stroke="#737373" stroke-width="0.45"/>
<polyline points="29.28,247.58 29.92,257.35 31.82,259.21 35.00,260.06 41.34,259.91 47.69,258.66 54.04,258.46 60.39,259.16 66.73,260.21 73.08,262.21 79.43,264.71 85.78,267.91 92.12,272.08 104.82,283.60 117.51,299.02 130.21,317.25 142.91,343.43 155.60,382.44" fill="none" stroke="#000" stroke-width="0.7" stroke-dasharray="0.9 1.8"/>
<polyline points="29.28,247.58 29.92,257.35 31.82,259.26 35.00,260.16 41.34,260.26 47.69,259.64 54.04,259.66 60.39,260.96 66.73,262.59 73.08,265.03 79.43,268.12 85.78,271.89 92.12,276.19 104.82,288.77 117.51,304.61 130.21,323.27 142.91,349.05 155.60,386.57" fill="none" stroke="#000" stroke-width="0.45"/>
<polyline points="29.28,247.58 29.92,257.35 31.82,259.21 35.00,260.01 41.34,259.81 47.69,258.66 54.04,258.51 60.39,259.06 66.73,260.01 73.08,261.91 79.43,264.17 85.78,267.17 92.12,271.18 104.82,282.75 117.51,297.95 130.21,316.23 142.91,342.51 155.60,381.19" fill="none" stroke="#000" stroke-width="0.7" stroke-dasharray="0.9 1.8"/>
<polyline points="29.28,247.58 29.92,257.35 31.82,259.21 35.00,260.01 41.34,259.76 47.69,258.61 54.04,258.46 60.39,259.01 66.73,259.96 73.08,261.74 79.43,263.99 85.78,267.07 92.12,271.13 104.82,282.51 117.51,297.68 130.21,316.00 142.91,342.13 155.60,380.77" fill="none" stroke="#000" stroke-width="0.7" stroke-dasharray="0.9 1.8"/>
<polyline points="29.28,247.58 29.92,257.35 31.82,259.26 35.00,260.21 41.34,260.36 47.69,259.66 54.04,260.00 60.39,261.43 66.73,263.15 73.08,265.85 79.43,268.97 85.78,272.81 92.12,277.22 104.82,289.88 117.51,305.90 130.21,324.50 142.91,350.35 155.60,387.37" fill="none" stroke="#000" stroke-width="0.45"/>
<polyline points="29.28,247.58 29.92,257.35 31.82,259.21 35.00,260.01 41.34,259.76 47.69,258.56 54.04,258.46 60.39,259.11 66.73,260.16 73.08,262.06 79.43,264.46 85.78,267.52 92.12,271.50 104.82,282.79 117.51,297.72 130.21,315.74 142.91,341.67 155.60,379.88" fill="none" stroke="#505050" stroke-width="0.45"/>
<polyline points="29.28,247.58 29.92,257.35 31.82,259.16 35.00,259.91 41.34,259.61 47.69,258.41 54.04,258.11 60.39,258.51 66.73,259.36 73.08,261.07 79.43,263.25 85.78,266.28 92.12,270.22 104.82,281.52 117.51,296.53 130.21,315.05 142.91,341.67 155.60,381.15" fill="none" stroke="#505050" stroke-width="0.7" stroke-dasharray="0.9 1.8"/>
<polyline points="29.28,247.58 29.92,257.35 31.82,259.21 35.00,260.06 41.34,259.91 47.69,258.66 54.04,258.46 60.39,259.21 66.73,260.36 73.08,262.31 79.43,264.86 85.78,268.11 92.12,272.21 104.82,284.03 117.51,299.67 130.21,318.09 142.91,344.60 155.60,383.77" fill="none" stroke="#000" stroke-width="0.45"/>
<polyline points="29.28,247.58 29.92,257.35 31.82,259.21 35.00,260.06 41.34,259.91 47.69,258.66 54.04,258.46 60.39,259.26 66.73,260.26 73.08,262.21 79.43,264.66 85.78,267.96 92.12,272.11 104.82,283.65 117.51,299.16 130.21,317.51 142.91,343.89 155.60,382.89" fill="none" stroke="#333" stroke-width="0.7" stroke-dasharray="0.9 1.8"/>
<polyline points="29.28,247.58 29.92,257.35 31.82,259.21 35.00,260.01 41.34,259.76 47.69,258.61 54.04,258.46 60.39,258.96 66.73,259.86 73.08,261.61 79.43,263.87 85.78,266.88 92.12,270.88 104.82,282.41 117.51,297.45 130.21,315.74 142.91,342.05 155.60,380.89" fill="none" stroke="#333" stroke-width="0.65"/>
<circle cx="29.28" cy="247.58" r="1.1" fill="#fff" stroke="#737373" stroke-width="0.55"/>
<circle cx="29.92" cy="257.30" r="1.1" fill="#fff" stroke="#737373" stroke-width="0.55"/>
<circle cx="31.82" cy="259.21" r="1.1" fill="#fff" stroke="#737373" stroke-width="0.55"/>
<circle cx="35.00" cy="260.11" r="1.1" fill="#fff" stroke="#737373" stroke-width="0.55"/>
<circle cx="41.34" cy="260.01" r="1.1" fill="#fff" stroke="#737373" stroke-width="0.55"/>
<circle cx="47.69" cy="258.61" r="1.1" fill="#fff" stroke="#737373" stroke-width="0.55"/>
<circle cx="54.04" cy="258.46" r="1.1" fill="#fff" stroke="#737373" stroke-width="0.55"/>
<circle cx="60.39" cy="259.36" r="1.1" fill="#fff" stroke="#737373" stroke-width="0.55"/>
<circle cx="66.73" cy="260.79" r="1.1" fill="#fff" stroke="#737373" stroke-width="0.55"/>
<circle cx="73.08" cy="263.11" r="1.1" fill="#fff" stroke="#737373" stroke-width="0.55"/>
<circle cx="79.43" cy="265.90" r="1.1" fill="#fff" stroke="#737373" stroke-width="0.55"/>
<circle cx="85.78" cy="269.37" r="1.1" fill="#fff" stroke="#737373" stroke-width="0.55"/>
<circle cx="92.12" cy="274.06" r="1.1" fill="#fff" stroke="#737373" stroke-width="0.55"/>
<circle cx="104.82" cy="286.63" r="1.1" fill="#fff" stroke="#737373" stroke-width="0.55"/>
<circle cx="117.51" cy="302.70" r="1.1" fill="#fff" stroke="#737373" stroke-width="0.55"/>
<circle cx="130.21" cy="322.13" r="1.1" fill="#fff" stroke="#737373" stroke-width="0.55"/>
<circle cx="142.91" cy="349.74" r="1.1" fill="#fff" stroke="#737373" stroke-width="0.55"/>
<circle cx="155.60" cy="389.75" r="1.1" fill="#fff" stroke="#737373" stroke-width="0.55"/>
<circle cx="29.28" cy="247.58" r="1.1" fill="#000"/>
<circle cx="29.92" cy="257.35" r="1.1" fill="#000"/>
<circle cx="31.82" cy="259.21" r="1.1" fill="#000"/>
<circle cx="35.00" cy="260.06" r="1.1" fill="#000"/>
<circle cx="41.34" cy="259.91" r="1.1" fill="#000"/>
<circle cx="47.69" cy="258.66" r="1.1" fill="#000"/>
<circle cx="54.04" cy="258.46" r="1.1" fill="#000"/>
<circle cx="60.39" cy="259.16" r="1.1" fill="#000"/>
<circle cx="66.73" cy="260.21" r="1.1" fill="#000"/>
<circle cx="73.08" cy="262.21" r="1.1" fill="#000"/>
<circle cx="79.43" cy="264.71" r="1.1" fill="#000"/>
<circle cx="85.78" cy="267.91" r="1.1" fill="#000"/>
<circle cx="92.12" cy="272.08" r="1.1" fill="#000"/>
<circle cx="104.82" cy="283.60" r="1.1" fill="#000"/>
<circle cx="117.51" cy="299.02" r="1.1" fill="#000"/>
<circle cx="130.21" cy="317.25" r="1.1" fill="#000"/>
<circle cx="142.91" cy="343.43" r="1.1" fill="#000"/>
<circle cx="155.60" cy="382.44" r="1.1" fill="#000"/>
<circle cx="29.28" cy="247.58" r="1.1" fill="#000"/>
<circle cx="29.92" cy="257.35" r="1.1" fill="#000"/>
<circle cx="31.82" cy="259.26" r="1.1" fill="#000"/>
<circle cx="35.00" cy="260.16" r="1.1" fill="#000"/>
<circle cx="41.34" cy="260.26" r="1.1" fill="#000"/>
<circle cx="47.69" cy="259.64" r="1.1" fill="#000"/>
<circle cx="54.04" cy="259.66" r="1.1" fill="#000"/>
<circle cx="60.39" cy="260.96" r="1.1" fill="#000"/>
<circle cx="66.73" cy="262.59" r="1.1" fill="#000"/>
<circle cx="73.08" cy="265.03" r="1.1" fill="#000"/>
<circle cx="79.43" cy="268.12" r="1.1" fill="#000"/>
<circle cx="85.78" cy="271.89" r="1.1" fill="#000"/>
<circle cx="92.12" cy="276.19" r="1.1" fill="#000"/>
<circle cx="104.82" cy="288.77" r="1.1" fill="#000"/>
<circle cx="117.51" cy="304.61" r="1.1" fill="#000"/>
<circle cx="130.21" cy="323.27" r="1.1" fill="#000"/>
<circle cx="142.91" cy="349.05" r="1.1" fill="#000"/>
<circle cx="155.60" cy="386.57" r="1.1" fill="#000"/>
<circle cx="29.28" cy="247.58" r="1.1" fill="#000"/>
<circle cx="29.92" cy="257.35" r="1.1" fill="#000"/>
<circle cx="31.82" cy="259.21" r="1.1" fill="#000"/>
<circle cx="35.00" cy="260.01" r="1.1" fill="#000"/>
<circle cx="41.34" cy="259.81" r="1.1" fill="#000"/>
<circle cx="47.69" cy="258.66" r="1.1" fill="#000"/>
<circle cx="54.04" cy="258.51" r="1.1" fill="#000"/>
<circle cx="60.39" cy="259.06" r="1.1" fill="#000"/>
<circle cx="66.73" cy="260.01" r="1.1" fill="#000"/>
<circle cx="73.08" cy="261.91" r="1.1" fill="#000"/>
<circle cx="79.43" cy="264.17" r="1.1" fill="#000"/>
<circle cx="85.78" cy="267.17" r="1.1" fill="#000"/>
<circle cx="92.12" cy="271.18" r="1.1" fill="#000"/>
<circle cx="104.82" cy="282.75" r="1.1" fill="#000"/>
<circle cx="117.51" cy="297.95" r="1.1" fill="#000"/>
<circle cx="130.21" cy="316.23" r="1.1" fill="#000"/>
<circle cx="142.91" cy="342.51" r="1.1" fill="#000"/>
<circle cx="155.60" cy="381.19" r="1.1" fill="#000"/>
<circle cx="29.28" cy="247.58" r="1.1" fill="#000"/>
<circle cx="29.92" cy="257.35" r="1.1" fill="#000"/>
<circle cx="31.82" cy="259.21" r="1.1" fill="#000"/>
<circle cx="35.00" cy="260.01" r="1.1" fill="#000"/>
<circle cx="41.34" cy="259.76" r="1.1" fill="#000"/>
<circle cx="47.69" cy="258.61" r="1.1" fill="#000"/>
<circle cx="54.04" cy="258.46" r="1.1" fill="#000"/>
<circle cx="60.39" cy="259.01" r="1.1" fill="#000"/>
<circle cx="66.73" cy="259.96" r="1.1" fill="#000"/>
<circle cx="73.08" cy="261.74" r="1.1" fill="#000"/>
<circle cx="79.43" cy="263.99" r="1.1" fill="#000"/>
<circle cx="85.78" cy="267.07" r="1.1" fill="#000"/>
<circle cx="92.12" cy="271.13" r="1.1" fill="#000"/>
<circle cx="104.82" cy="282.51" r="1.1" fill="#000"/>
<circle cx="117.51" cy="297.68" r="1.1" fill="#000"/>
<circle cx="130.21" cy="316.00" r="1.1" fill="#000"/>
<circle cx="142.91" cy="342.13" r="1.1" fill="#000"/>
<circle cx="155.60" cy="380.77" r="1.1" fill="#000"/>
<circle cx="29.28" cy="247.58" r="1.1" fill="#000"/>
<circle cx="29.92" cy="257.35" r="1.1" fill="#000"/>
<circle cx="31.82" cy="259.26" r="1.1" fill="#000"/>
<circle cx="35.00" cy="260.21" r="1.1" fill="#000"/>
<circle cx="41.34" cy="260.36" r="1.1" fill="#000"/>
<circle cx="47.69" cy="259.66" r="1.1" fill="#000"/>
<circle cx="54.04" cy="260.00" r="1.1" fill="#000"/>
<circle cx="60.39" cy="261.43" r="1.1" fill="#000"/>
<circle cx="66.73" cy="263.15" r="1.1" fill="#000"/>
<circle cx="73.08" cy="265.85" r="1.1" fill="#000"/>
<circle cx="79.43" cy="268.97" r="1.1" fill="#000"/>
<circle cx="85.78" cy="272.81" r="1.1" fill="#000"/>
<circle cx="92.12" cy="277.22" r="1.1" fill="#000"/>
<circle cx="104.82" cy="289.88" r="1.1" fill="#000"/>
<circle cx="117.51" cy="305.90" r="1.1" fill="#000"/>
<circle cx="130.21" cy="324.50" r="1.1" fill="#000"/>
<circle cx="142.91" cy="350.35" r="1.1" fill="#000"/>
<circle cx="155.60" cy="387.37" r="1.1" fill="#000"/>
<path d="M29.28 246.32L30.38 248.41H28.18Z" fill="#fff" stroke="#505050" stroke-width="0.55"/>
<path d="M29.92 256.09L31.02 258.18H28.82Z" fill="#fff" stroke="#505050" stroke-width="0.55"/>
<path d="M31.82 257.94L32.92 260.03H30.72Z" fill="#fff" stroke="#505050" stroke-width="0.55"/>
<path d="M35.00 258.74L36.10 260.83H33.90Z" fill="#fff" stroke="#505050" stroke-width="0.55"/>
<path d="M41.34 258.49L42.45 260.58H40.24Z" fill="#fff" stroke="#505050" stroke-width="0.55"/>
<path d="M47.69 257.29L48.79 259.38H46.59Z" fill="#fff" stroke="#505050" stroke-width="0.55"/>
<path d="M54.04 257.19L55.14 259.28H52.94Z" fill="#fff" stroke="#505050" stroke-width="0.55"/>
<path d="M60.39 257.84L61.49 259.93H59.29Z" fill="#fff" stroke="#505050" stroke-width="0.55"/>
<path d="M66.73 258.89L67.83 260.98H65.63Z" fill="#fff" stroke="#505050" stroke-width="0.55"/>
<path d="M73.08 260.80L74.18 262.89H71.98Z" fill="#fff" stroke="#505050" stroke-width="0.55"/>
<path d="M79.43 263.20L80.53 265.29H78.33Z" fill="#fff" stroke="#505050" stroke-width="0.55"/>
<path d="M85.78 266.25L86.88 268.34H84.68Z" fill="#fff" stroke="#505050" stroke-width="0.55"/>
<path d="M92.12 270.23L93.22 272.32H91.03Z" fill="#fff" stroke="#505050" stroke-width="0.55"/>
<path d="M104.82 281.53L105.92 283.62H103.72Z" fill="#fff" stroke="#505050" stroke-width="0.55"/>
<path d="M117.51 296.46L118.61 298.55H116.41Z" fill="#fff" stroke="#505050" stroke-width="0.55"/>
<path d="M130.21 314.47L131.31 316.56H129.11Z" fill="#fff" stroke="#505050" stroke-width="0.55"/>
<path d="M142.91 340.41L144.00 342.50H141.81Z" fill="#fff" stroke="#505050" stroke-width="0.55"/>
<path d="M155.60 378.61L156.70 380.70H154.50Z" fill="#fff" stroke="#505050" stroke-width="0.55"/>
<path d="M29.28 246.32L30.38 248.41H28.18Z" fill="#fff" stroke="#505050" stroke-width="0.55"/>
<path d="M29.92 256.09L31.02 258.18H28.82Z" fill="#fff" stroke="#505050" stroke-width="0.55"/>
<path d="M31.82 257.89L32.92 259.98H30.72Z" fill="#fff" stroke="#505050" stroke-width="0.55"/>
<path d="M35.00 258.64L36.10 260.73H33.90Z" fill="#fff" stroke="#505050" stroke-width="0.55"/>
<path d="M41.34 258.34L42.45 260.43H40.24Z" fill="#fff" stroke="#505050" stroke-width="0.55"/>
<path d="M47.69 257.14L48.79 259.23H46.59Z" fill="#fff" stroke="#505050" stroke-width="0.55"/>
<path d="M54.04 256.84L55.14 258.93H52.94Z" fill="#fff" stroke="#505050" stroke-width="0.55"/>
<path d="M60.39 257.24L61.49 259.33H59.29Z" fill="#fff" stroke="#505050" stroke-width="0.55"/>
<path d="M66.73 258.09L67.83 260.18H65.63Z" fill="#fff" stroke="#505050" stroke-width="0.55"/>
<path d="M73.08 259.80L74.18 261.89H71.98Z" fill="#fff" stroke="#505050" stroke-width="0.55"/>
<path d="M79.43 261.98L80.53 264.07H78.33Z" fill="#fff" stroke="#505050" stroke-width="0.55"/>
<path d="M85.78 265.02L86.88 267.11H84.68Z" fill="#fff" stroke="#505050" stroke-width="0.55"/>
<path d="M92.12 268.96L93.22 271.05H91.03Z" fill="#fff" stroke="#505050" stroke-width="0.55"/>
<path d="M104.82 280.25L105.92 282.34H103.72Z" fill="#fff" stroke="#505050" stroke-width="0.55"/>
<path d="M117.51 295.26L118.61 297.35H116.41Z" fill="#fff" stroke="#505050" stroke-width="0.55"/>
<path d="M130.21 313.78L131.31 315.87H129.11Z" fill="#fff" stroke="#505050" stroke-width="0.55"/>
<path d="M142.91 340.41L144.00 342.50H141.81Z" fill="#fff" stroke="#505050" stroke-width="0.55"/>
<path d="M155.60 379.89L156.70 381.98H154.50Z" fill="#fff" stroke="#505050" stroke-width="0.55"/>
<circle cx="29.28" cy="247.58" r="1.1" fill="#000"/>
<circle cx="29.92" cy="257.35" r="1.1" fill="#000"/>
<circle cx="31.82" cy="259.21" r="1.1" fill="#000"/>
<circle cx="35.00" cy="260.06" r="1.1" fill="#000"/>
<circle cx="41.34" cy="259.91" r="1.1" fill="#000"/>
<circle cx="47.69" cy="258.66" r="1.1" fill="#000"/>
<circle cx="54.04" cy="258.46" r="1.1" fill="#000"/>
<circle cx="60.39" cy="259.21" r="1.1" fill="#000"/>
<circle cx="66.73" cy="260.36" r="1.1" fill="#000"/>
<circle cx="73.08" cy="262.31" r="1.1" fill="#000"/>
<circle cx="79.43" cy="264.86" r="1.1" fill="#000"/>
<circle cx="85.78" cy="268.11" r="1.1" fill="#000"/>
<circle cx="92.12" cy="272.21" r="1.1" fill="#000"/>
<circle cx="104.82" cy="284.03" r="1.1" fill="#000"/>
<circle cx="117.51" cy="299.67" r="1.1" fill="#000"/>
<circle cx="130.21" cy="318.09" r="1.1" fill="#000"/>
<circle cx="142.91" cy="344.60" r="1.1" fill="#000"/>
<circle cx="155.60" cy="383.77" r="1.1" fill="#000"/>
<circle cx="29.28" cy="247.58" r="1.1" fill="#fff" stroke="#333" stroke-width="0.55"/>
<circle cx="29.92" cy="257.35" r="1.1" fill="#fff" stroke="#333" stroke-width="0.55"/>
<circle cx="31.82" cy="259.21" r="1.1" fill="#fff" stroke="#333" stroke-width="0.55"/>
<circle cx="35.00" cy="260.06" r="1.1" fill="#fff" stroke="#333" stroke-width="0.55"/>
<circle cx="41.34" cy="259.91" r="1.1" fill="#fff" stroke="#333" stroke-width="0.55"/>
<circle cx="47.69" cy="258.66" r="1.1" fill="#fff" stroke="#333" stroke-width="0.55"/>
<circle cx="54.04" cy="258.46" r="1.1" fill="#fff" stroke="#333" stroke-width="0.55"/>
<circle cx="60.39" cy="259.26" r="1.1" fill="#fff" stroke="#333" stroke-width="0.55"/>
<circle cx="66.73" cy="260.26" r="1.1" fill="#fff" stroke="#333" stroke-width="0.55"/>
<circle cx="73.08" cy="262.21" r="1.1" fill="#fff" stroke="#333" stroke-width="0.55"/>
<circle cx="79.43" cy="264.66" r="1.1" fill="#fff" stroke="#333" stroke-width="0.55"/>
<circle cx="85.78" cy="267.96" r="1.1" fill="#fff" stroke="#333" stroke-width="0.55"/>
<circle cx="92.12" cy="272.11" r="1.1" fill="#fff" stroke="#333" stroke-width="0.55"/>
<circle cx="104.82" cy="283.65" r="1.1" fill="#fff" stroke="#333" stroke-width="0.55"/>
<circle cx="117.51" cy="299.16" r="1.1" fill="#fff" stroke="#333" stroke-width="0.55"/>
<circle cx="130.21" cy="317.51" r="1.1" fill="#fff" stroke="#333" stroke-width="0.55"/>
<circle cx="142.91" cy="343.89" r="1.1" fill="#fff" stroke="#333" stroke-width="0.55"/>
<circle cx="155.60" cy="382.89" r="1.1" fill="#fff" stroke="#333" stroke-width="0.55"/>
<rect x="32" y="345.5" width="67" height="61" fill="#fff" stroke="#bcbcbc" stroke-width="0.6"/>
<line x1="34" y1="349.30" x2="44" y2="349.30" stroke="#737373" stroke-width="0.55"/>
<circle cx="39.00" cy="349.30" r="0.95" fill="#fff" stroke="#737373" stroke-width="0.55"/>
<text x="45.80" y="350.85" font-size="4.3" fill="#1a1a1a" stroke="#1a1a1a" stroke-width="0.08">Blue Water</text>
<line x1="34" y1="354.55" x2="44" y2="354.55" stroke="#333" stroke-width="0.55"/>
<path d="M38.34 353.88l1.33 1.33M38.34 355.22l1.33 -1.33" stroke="#333" stroke-width="0.4" fill="none"/>
<text x="45.80" y="356.10" font-size="4.3" fill="#1a1a1a" stroke="#1a1a1a" stroke-width="0.08">H2O</text>
<line x1="34" y1="359.80" x2="44" y2="359.80" stroke="#000" stroke-width="0.55" stroke-dasharray="0.9 1.8"/>
<circle cx="39.00" cy="359.80" r="1.1" fill="#000"/>
<text x="45.80" y="361.35" font-size="4.3" fill="#1a1a1a" stroke="#1a1a1a" stroke-width="0.08">HE Solid Water</text>
<line x1="34" y1="365.05" x2="44" y2="365.05" stroke="#000" stroke-width="0.55"/>
<circle cx="39.00" cy="365.05" r="1.1" fill="#000"/>
<text x="45.80" y="366.60" font-size="4.3" fill="#1a1a1a" stroke="#1a1a1a" stroke-width="0.08">Original Plastic Water 2015</text>
<line x1="34" y1="370.30" x2="44" y2="370.30" stroke="#000" stroke-width="0.55" stroke-dasharray="0.9 1.8"/>
<circle cx="39.00" cy="370.30" r="1.1" fill="#000"/>
<text x="45.80" y="371.85" font-size="4.3" fill="#1a1a1a" stroke="#1a1a1a" stroke-width="0.08">Plastic Water DT</text>
<line x1="34" y1="375.55" x2="44" y2="375.55" stroke="#000" stroke-width="0.55" stroke-dasharray="0.9 1.8"/>
<circle cx="39.00" cy="375.55" r="1.1" fill="#000"/>
<text x="45.80" y="377.10" font-size="4.3" fill="#1a1a1a" stroke="#1a1a1a" stroke-width="0.08">Plastic Water LR</text>
<line x1="34" y1="380.80" x2="44" y2="380.80" stroke="#000" stroke-width="0.55"/>
<circle cx="39.00" cy="380.80" r="1.1" fill="#000"/>
<text x="45.80" y="382.35" font-size="4.3" fill="#1a1a1a" stroke="#1a1a1a" stroke-width="0.08">Plastic Water</text>
<line x1="34" y1="386.05" x2="44" y2="386.05" stroke="#505050" stroke-width="0.55"/>
<path d="M39.00 384.96L39.95 386.76H38.05Z" fill="#fff" stroke="#505050" stroke-width="0.55"/>
<text x="45.80" y="387.60" font-size="4.3" fill="#1a1a1a" stroke="#1a1a1a" stroke-width="0.08">RW1</text>
<line x1="34" y1="391.30" x2="44" y2="391.30" stroke="#505050" stroke-width="0.55" stroke-dasharray="0.9 1.8"/>
<path d="M39.00 390.21L39.95 392.01H38.05Z" fill="#fff" stroke="#505050" stroke-width="0.55"/>
<text x="45.80" y="392.85" font-size="4.3" fill="#1a1a1a" stroke="#1a1a1a" stroke-width="0.08">RW3</text>
<line x1="34" y1="396.55" x2="44" y2="396.55" stroke="#000" stroke-width="0.55"/>
<circle cx="39.00" cy="396.55" r="1.1" fill="#000"/>
<text x="45.80" y="398.10" font-size="4.3" fill="#1a1a1a" stroke="#1a1a1a" stroke-width="0.08">Solid Water</text>
<line x1="34" y1="401.80" x2="44" y2="401.80" stroke="#333" stroke-width="0.55" stroke-dasharray="0.9 1.8"/>
<circle cx="39.00" cy="401.80" r="0.95" fill="#fff" stroke="#333" stroke-width="0.55"/>
<text x="45.80" y="403.35" font-size="4.3" fill="#1a1a1a" stroke="#1a1a1a" stroke-width="0.08">Virtual Water</text>
<line x1="196.05" y1="233.95" x2="196.05" y2="409.4" stroke="#e4e4e4" stroke-width="0.5"/>
<line x1="221.59" y1="233.95" x2="221.59" y2="409.4" stroke="#e4e4e4" stroke-width="0.5"/>
<line x1="247.13" y1="233.95" x2="247.13" y2="409.4" stroke="#e4e4e4" stroke-width="0.5"/>
<line x1="272.67" y1="233.95" x2="272.67" y2="409.4" stroke="#e4e4e4" stroke-width="0.5"/>
<line x1="298.21" y1="233.95" x2="298.21" y2="409.4" stroke="#e4e4e4" stroke-width="0.5"/>
<line x1="323.75" y1="233.95" x2="323.75" y2="409.4" stroke="#e4e4e4" stroke-width="0.5"/>
<line x1="196.05" y1="409.40" x2="323.75" y2="409.40" stroke="#e4e4e4" stroke-width="0.5"/>
<line x1="196.05" y1="380.16" x2="323.75" y2="380.16" stroke="#e4e4e4" stroke-width="0.5"/>
<line x1="196.05" y1="350.92" x2="323.75" y2="350.92" stroke="#e4e4e4" stroke-width="0.5"/>
<line x1="196.05" y1="321.67" x2="323.75" y2="321.67" stroke="#e4e4e4" stroke-width="0.5"/>
<line x1="196.05" y1="292.43" x2="323.75" y2="292.43" stroke="#e4e4e4" stroke-width="0.5"/>
<line x1="196.05" y1="263.19" x2="323.75" y2="263.19" stroke="#e4e4e4" stroke-width="0.5"/>
<line x1="196.05" y1="233.95" x2="323.75" y2="233.95" stroke="#e4e4e4" stroke-width="0.5"/>
<rect x="196.05" y="233.95" width="127.70" height="175.45" fill="none" stroke="#cfcfcf" stroke-width="0.5"/>
<path d="M196.05 233.95V409.4H323.75" fill="none" stroke="#c2c2c2" stroke-width="0.9"/>
<line x1="196.05" y1="409.4" x2="196.05" y2="407.9" stroke="#bcbcbc" stroke-width="0.6"/>
<text x="196.05" y="418.40" font-size="6.8" text-anchor="middle" fill="#262626" stroke="#262626" stroke-width="0.1">0</text>
<line x1="221.59" y1="409.4" x2="221.59" y2="407.9" stroke="#bcbcbc" stroke-width="0.6"/>
<text x="221.59" y="418.40" font-size="6.8" text-anchor="middle" fill="#262626" stroke="#262626" stroke-width="0.1">2</text>
<line x1="247.13" y1="409.4" x2="247.13" y2="407.9" stroke="#bcbcbc" stroke-width="0.6"/>
<text x="247.13" y="418.40" font-size="6.8" text-anchor="middle" fill="#262626" stroke="#262626" stroke-width="0.1">4</text>
<line x1="272.67" y1="409.4" x2="272.67" y2="407.9" stroke="#bcbcbc" stroke-width="0.6"/>
<text x="272.67" y="418.40" font-size="6.8" text-anchor="middle" fill="#262626" stroke="#262626" stroke-width="0.1">6</text>
<line x1="298.21" y1="409.4" x2="298.21" y2="407.9" stroke="#bcbcbc" stroke-width="0.6"/>
<text x="298.21" y="418.40" font-size="6.8" text-anchor="middle" fill="#262626" stroke="#262626" stroke-width="0.1">8</text>
<line x1="323.75" y1="409.4" x2="323.75" y2="407.9" stroke="#bcbcbc" stroke-width="0.6"/>
<text x="323.75" y="418.40" font-size="6.8" text-anchor="middle" fill="#262626" stroke="#262626" stroke-width="0.1">10</text>
<line x1="196.05" y1="409.40" x2="197.55" y2="409.40" stroke="#bcbcbc" stroke-width="0.6"/>
<text x="194.25" y="412.10" font-size="6.8" text-anchor="end" fill="#262626" stroke="#262626" stroke-width="0.1">0.975</text>
<line x1="196.05" y1="380.16" x2="197.55" y2="380.16" stroke="#bcbcbc" stroke-width="0.6"/>
<text x="194.25" y="382.86" font-size="6.8" text-anchor="end" fill="#262626" stroke="#262626" stroke-width="0.1">0.98</text>
<line x1="196.05" y1="350.92" x2="197.55" y2="350.92" stroke="#bcbcbc" stroke-width="0.6"/>
<text x="194.25" y="353.62" font-size="6.8" text-anchor="end" fill="#262626" stroke="#262626" stroke-width="0.1">0.985</text>
<line x1="196.05" y1="321.67" x2="197.55" y2="321.67" stroke="#bcbcbc" stroke-width="0.6"/>
<text x="194.25" y="324.37" font-size="6.8" text-anchor="end" fill="#262626" stroke="#262626" stroke-width="0.1">0.99</text>
<line x1="196.05" y1="292.43" x2="197.55" y2="292.43" stroke="#bcbcbc" stroke-width="0.6"/>
<text x="194.25" y="295.13" font-size="6.8" text-anchor="end" fill="#262626" stroke="#262626" stroke-width="0.1">0.995</text>
<line x1="196.05" y1="263.19" x2="197.55" y2="263.19" stroke="#bcbcbc" stroke-width="0.6"/>
<text x="194.25" y="265.89" font-size="6.8" text-anchor="end" fill="#262626" stroke="#262626" stroke-width="0.1">1</text>
<line x1="196.05" y1="233.95" x2="197.55" y2="233.95" stroke="#bcbcbc" stroke-width="0.6"/>
<text x="194.25" y="236.65" font-size="6.8" text-anchor="end" fill="#262626" stroke="#262626" stroke-width="0.1">1.005</text>
<text x="259.90" y="426.20" font-size="7.2" text-anchor="middle" fill="#262626" stroke="#262626" stroke-width="0.1">distance / cm</text>
<polyline points="197.33,262.61 199.24,263.19 202.44,264.36 208.82,266.12 215.21,263.19 221.59,263.19 227.98,267.87 234.36,274.13 240.75,280.74 247.13,287.17 253.52,292.78 259.90,301.21 272.67,314.89 285.44,329.69 298.21,347.41 310.98,370.80 323.75,399.87" fill="none" stroke="#737373" stroke-width="0.45"/>
<polyline points="197.33,263.19 199.24,263.19 202.44,263.78 208.82,264.95 215.21,263.78 221.59,263.19 227.98,265.53 234.36,267.29 240.75,270.21 247.13,273.13 253.52,275.47 259.90,277.52 272.67,277.81 285.44,283.08 298.21,283.08 310.98,282.49 323.75,287.17" fill="none" stroke="#000" stroke-width="0.7" stroke-dasharray="0.9 1.8"/>
<polyline points="197.33,263.19 199.24,263.78 202.44,264.95 208.82,269.04 215.21,275.30 221.59,277.23 227.98,286.58 234.36,295.12 240.75,303.25 247.13,313.31 253.52,322.61 259.90,326.59 272.67,341.03 285.44,353.84 298.21,362.32 310.98,361.21 323.75,350.92" fill="none" stroke="#000" stroke-width="0.45"/>
<polyline points="197.33,263.19 199.24,263.19 202.44,263.19 208.82,263.78 215.21,263.78 221.59,263.78 227.98,264.36 234.36,264.95 240.75,266.70 247.13,266.70 253.52,266.70 259.90,266.70 272.67,267.29 285.44,269.62 298.21,269.62 310.98,269.62 323.75,267.87" fill="none" stroke="#000" stroke-width="0.7" stroke-dasharray="0.9 1.8"/>
<polyline points="197.33,263.19 199.24,263.19 202.44,263.19 208.82,263.19 215.21,263.19 221.59,263.19 227.98,263.78 234.36,264.36 240.75,264.65 247.13,264.65 253.52,265.53 259.90,266.12 272.67,264.36 285.44,266.12 298.21,266.70 310.98,264.36 323.75,261.44" fill="none" stroke="#000" stroke-width="0.7" stroke-dasharray="0.9 1.8"/>
<polyline points="197.33,263.19 199.24,263.78 202.44,265.53 208.82,270.21 215.21,275.47 221.59,281.15 227.98,292.08 234.36,301.62 240.75,312.90 247.13,323.31 253.52,333.55 259.90,338.93 272.67,354.60 285.44,370.04 298.21,378.58 310.98,379.34 323.75,363.20" fill="none" stroke="#000" stroke-width="0.45"/>
<polyline points="197.33,263.19 199.24,263.19 202.44,263.19 208.82,263.19 215.21,262.61 221.59,263.19 227.98,264.95 234.36,266.70 240.75,268.46 247.13,270.21 253.52,270.79 259.90,270.50 272.67,267.87 285.44,266.70 298.21,263.19 310.98,257.93 323.75,247.64" fill="none" stroke="#505050" stroke-width="0.45"/>
<polyline points="197.33,263.19 199.24,262.61 202.44,262.02 208.82,261.44 215.21,260.85 221.59,259.10 227.98,257.93 234.36,257.34 240.75,256.76 247.13,255.88 253.52,256.17 259.90,255.30 272.67,252.26 285.44,251.61 298.21,254.13 310.98,257.93 323.75,267.29" fill="none" stroke="#505050" stroke-width="0.7" stroke-dasharray="0.9 1.8"/>
<polyline points="197.33,263.19 199.24,263.19 202.44,263.78 208.82,264.95 215.21,263.78 221.59,263.19 227.98,266.12 234.36,269.04 240.75,271.38 247.13,274.89 253.52,277.81 259.90,278.98 272.67,283.08 285.44,291.26 298.21,294.19 310.98,298.87 323.75,307.64" fill="none" stroke="#000" stroke-width="0.45"/>
<polyline points="197.33,263.19 199.24,263.19 202.44,263.78 208.82,264.95 215.21,263.78 221.59,263.19 227.98,266.70 234.36,267.87 240.75,270.21 247.13,272.55 253.52,276.06 259.90,277.81 272.67,278.40 285.44,284.83 298.21,286.58 310.98,288.92 323.75,294.19" fill="none" stroke="#333" stroke-width="0.7" stroke-dasharray="0.9 1.8"/>
<polyline points="196.05,263.19 323.75,263.19" fill="none" stroke="#333" stroke-width="0.45"/>
<circle cx="197.33" cy="263.19" r="0.55" fill="#333"/>
<circle cx="199.24" cy="263.19" r="0.55" fill="#333"/>
<circle cx="202.44" cy="263.19" r="0.55" fill="#333"/>
<circle cx="208.82" cy="263.19" r="0.55" fill="#333"/>
<circle cx="215.21" cy="263.19" r="0.55" fill="#333"/>
<circle cx="221.59" cy="263.19" r="0.55" fill="#333"/>
<circle cx="227.98" cy="263.19" r="0.55" fill="#333"/>
<circle cx="234.36" cy="263.19" r="0.55" fill="#333"/>
<circle cx="240.75" cy="263.19" r="0.55" fill="#333"/>
<circle cx="247.13" cy="263.19" r="0.55" fill="#333"/>
<circle cx="253.52" cy="263.19" r="0.55" fill="#333"/>
<circle cx="259.90" cy="263.19" r="0.55" fill="#333"/>
<circle cx="272.67" cy="263.19" r="0.55" fill="#333"/>
<circle cx="285.44" cy="263.19" r="0.55" fill="#333"/>
<circle cx="298.21" cy="263.19" r="0.55" fill="#333"/>
<circle cx="310.98" cy="263.19" r="0.55" fill="#333"/>
<circle cx="323.75" cy="263.19" r="0.55" fill="#333"/>
<circle cx="197.33" cy="262.61" r="1.15" fill="#fff" stroke="#737373" stroke-width="0.55"/>
<circle cx="199.24" cy="263.19" r="1.15" fill="#fff" stroke="#737373" stroke-width="0.55"/>
<circle cx="202.44" cy="264.36" r="1.15" fill="#fff" stroke="#737373" stroke-width="0.55"/>
<circle cx="208.82" cy="266.12" r="1.15" fill="#fff" stroke="#737373" stroke-width="0.55"/>
<circle cx="215.21" cy="263.19" r="1.15" fill="#fff" stroke="#737373" stroke-width="0.55"/>
<circle cx="221.59" cy="263.19" r="1.15" fill="#fff" stroke="#737373" stroke-width="0.55"/>
<circle cx="227.98" cy="267.87" r="1.15" fill="#fff" stroke="#737373" stroke-width="0.55"/>
<circle cx="234.36" cy="274.13" r="1.15" fill="#fff" stroke="#737373" stroke-width="0.55"/>
<circle cx="240.75" cy="280.74" r="1.15" fill="#fff" stroke="#737373" stroke-width="0.55"/>
<circle cx="247.13" cy="287.17" r="1.15" fill="#fff" stroke="#737373" stroke-width="0.55"/>
<circle cx="253.52" cy="292.78" r="1.15" fill="#fff" stroke="#737373" stroke-width="0.55"/>
<circle cx="259.90" cy="301.21" r="1.15" fill="#fff" stroke="#737373" stroke-width="0.55"/>
<circle cx="272.67" cy="314.89" r="1.15" fill="#fff" stroke="#737373" stroke-width="0.55"/>
<circle cx="285.44" cy="329.69" r="1.15" fill="#fff" stroke="#737373" stroke-width="0.55"/>
<circle cx="298.21" cy="347.41" r="1.15" fill="#fff" stroke="#737373" stroke-width="0.55"/>
<circle cx="310.98" cy="370.80" r="1.15" fill="#fff" stroke="#737373" stroke-width="0.55"/>
<circle cx="323.75" cy="399.87" r="1.15" fill="#fff" stroke="#737373" stroke-width="0.55"/>
<circle cx="197.33" cy="263.19" r="1.15" fill="#000"/>
<circle cx="199.24" cy="263.19" r="1.15" fill="#000"/>
<circle cx="202.44" cy="263.78" r="1.15" fill="#000"/>
<circle cx="208.82" cy="264.95" r="1.15" fill="#000"/>
<circle cx="215.21" cy="263.78" r="1.15" fill="#000"/>
<circle cx="221.59" cy="263.19" r="1.15" fill="#000"/>
<circle cx="227.98" cy="265.53" r="1.15" fill="#000"/>
<circle cx="234.36" cy="267.29" r="1.15" fill="#000"/>
<circle cx="240.75" cy="270.21" r="1.15" fill="#000"/>
<circle cx="247.13" cy="273.13" r="1.15" fill="#000"/>
<circle cx="253.52" cy="275.47" r="1.15" fill="#000"/>
<circle cx="259.90" cy="277.52" r="1.15" fill="#000"/>
<circle cx="272.67" cy="277.81" r="1.15" fill="#000"/>
<circle cx="285.44" cy="283.08" r="1.15" fill="#000"/>
<circle cx="298.21" cy="283.08" r="1.15" fill="#000"/>
<circle cx="310.98" cy="282.49" r="1.15" fill="#000"/>
<circle cx="323.75" cy="287.17" r="1.15" fill="#000"/>
<circle cx="197.33" cy="263.19" r="1.15" fill="#000"/>
<circle cx="199.24" cy="263.78" r="1.15" fill="#000"/>
<circle cx="202.44" cy="264.95" r="1.15" fill="#000"/>
<circle cx="208.82" cy="269.04" r="1.15" fill="#000"/>
<circle cx="215.21" cy="275.30" r="1.15" fill="#000"/>
<circle cx="221.59" cy="277.23" r="1.15" fill="#000"/>
<circle cx="227.98" cy="286.58" r="1.15" fill="#000"/>
<circle cx="234.36" cy="295.12" r="1.15" fill="#000"/>
<circle cx="240.75" cy="303.25" r="1.15" fill="#000"/>
<circle cx="247.13" cy="313.31" r="1.15" fill="#000"/>
<circle cx="253.52" cy="322.61" r="1.15" fill="#000"/>
<circle cx="259.90" cy="326.59" r="1.15" fill="#000"/>
<circle cx="272.67" cy="341.03" r="1.15" fill="#000"/>
<circle cx="285.44" cy="353.84" r="1.15" fill="#000"/>
<circle cx="298.21" cy="362.32" r="1.15" fill="#000"/>
<circle cx="310.98" cy="361.21" r="1.15" fill="#000"/>
<circle cx="323.75" cy="350.92" r="1.15" fill="#000"/>
<circle cx="197.33" cy="263.19" r="1.15" fill="#000"/>
<circle cx="199.24" cy="263.19" r="1.15" fill="#000"/>
<circle cx="202.44" cy="263.19" r="1.15" fill="#000"/>
<circle cx="208.82" cy="263.78" r="1.15" fill="#000"/>
<circle cx="215.21" cy="263.78" r="1.15" fill="#000"/>
<circle cx="221.59" cy="263.78" r="1.15" fill="#000"/>
<circle cx="227.98" cy="264.36" r="1.15" fill="#000"/>
<circle cx="234.36" cy="264.95" r="1.15" fill="#000"/>
<circle cx="240.75" cy="266.70" r="1.15" fill="#000"/>
<circle cx="247.13" cy="266.70" r="1.15" fill="#000"/>
<circle cx="253.52" cy="266.70" r="1.15" fill="#000"/>
<circle cx="259.90" cy="266.70" r="1.15" fill="#000"/>
<circle cx="272.67" cy="267.29" r="1.15" fill="#000"/>
<circle cx="285.44" cy="269.62" r="1.15" fill="#000"/>
<circle cx="298.21" cy="269.62" r="1.15" fill="#000"/>
<circle cx="310.98" cy="269.62" r="1.15" fill="#000"/>
<circle cx="323.75" cy="267.87" r="1.15" fill="#000"/>
<circle cx="197.33" cy="263.19" r="1.15" fill="#000"/>
<circle cx="199.24" cy="263.19" r="1.15" fill="#000"/>
<circle cx="202.44" cy="263.19" r="1.15" fill="#000"/>
<circle cx="208.82" cy="263.19" r="1.15" fill="#000"/>
<circle cx="215.21" cy="263.19" r="1.15" fill="#000"/>
<circle cx="221.59" cy="263.19" r="1.15" fill="#000"/>
<circle cx="227.98" cy="263.78" r="1.15" fill="#000"/>
<circle cx="234.36" cy="264.36" r="1.15" fill="#000"/>
<circle cx="240.75" cy="264.65" r="1.15" fill="#000"/>
<circle cx="247.13" cy="264.65" r="1.15" fill="#000"/>
<circle cx="253.52" cy="265.53" r="1.15" fill="#000"/>
<circle cx="259.90" cy="266.12" r="1.15" fill="#000"/>
<circle cx="272.67" cy="264.36" r="1.15" fill="#000"/>
<circle cx="285.44" cy="266.12" r="1.15" fill="#000"/>
<circle cx="298.21" cy="266.70" r="1.15" fill="#000"/>
<circle cx="310.98" cy="264.36" r="1.15" fill="#000"/>
<circle cx="323.75" cy="261.44" r="1.15" fill="#000"/>
<circle cx="197.33" cy="263.19" r="1.15" fill="#000"/>
<circle cx="199.24" cy="263.78" r="1.15" fill="#000"/>
<circle cx="202.44" cy="265.53" r="1.15" fill="#000"/>
<circle cx="208.82" cy="270.21" r="1.15" fill="#000"/>
<circle cx="215.21" cy="275.47" r="1.15" fill="#000"/>
<circle cx="221.59" cy="281.15" r="1.15" fill="#000"/>
<circle cx="227.98" cy="292.08" r="1.15" fill="#000"/>
<circle cx="234.36" cy="301.62" r="1.15" fill="#000"/>
<circle cx="240.75" cy="312.90" r="1.15" fill="#000"/>
<circle cx="247.13" cy="323.31" r="1.15" fill="#000"/>
<circle cx="253.52" cy="333.55" r="1.15" fill="#000"/>
<circle cx="259.90" cy="338.93" r="1.15" fill="#000"/>
<circle cx="272.67" cy="354.60" r="1.15" fill="#000"/>
<circle cx="285.44" cy="370.04" r="1.15" fill="#000"/>
<circle cx="298.21" cy="378.58" r="1.15" fill="#000"/>
<circle cx="310.98" cy="379.34" r="1.15" fill="#000"/>
<circle cx="323.75" cy="363.20" r="1.15" fill="#000"/>
<path d="M215.21 261.23L216.41 263.51H214.01Z" fill="#fff" stroke="#505050" stroke-width="0.55"/>
<path d="M221.59 261.81L222.79 264.09H220.39Z" fill="#fff" stroke="#505050" stroke-width="0.55"/>
<path d="M227.98 263.57L229.18 265.85H226.78Z" fill="#fff" stroke="#505050" stroke-width="0.55"/>
<path d="M234.36 265.32L235.56 267.60H233.16Z" fill="#fff" stroke="#505050" stroke-width="0.55"/>
<path d="M240.75 267.08L241.94 269.36H239.55Z" fill="#fff" stroke="#505050" stroke-width="0.55"/>
<path d="M247.13 268.83L248.33 271.11H245.93Z" fill="#fff" stroke="#505050" stroke-width="0.55"/>
<path d="M253.52 269.41L254.72 271.69H252.32Z" fill="#fff" stroke="#505050" stroke-width="0.55"/>
<path d="M259.90 269.12L261.10 271.40H258.70Z" fill="#fff" stroke="#505050" stroke-width="0.55"/>
<path d="M272.67 266.49L273.87 268.77H271.47Z" fill="#fff" stroke="#505050" stroke-width="0.55"/>
<path d="M285.44 265.32L286.64 267.60H284.24Z" fill="#fff" stroke="#505050" stroke-width="0.55"/>
<path d="M298.21 261.81L299.41 264.09H297.01Z" fill="#fff" stroke="#505050" stroke-width="0.55"/>
<path d="M310.98 256.55L312.18 258.83H309.78Z" fill="#fff" stroke="#505050" stroke-width="0.55"/>
<path d="M323.75 246.26L324.95 248.54H322.55Z" fill="#fff" stroke="#505050" stroke-width="0.55"/>
<path d="M215.21 259.47L216.41 261.75H214.01Z" fill="#fff" stroke="#505050" stroke-width="0.55"/>
<path d="M221.59 257.72L222.79 260.00H220.39Z" fill="#fff" stroke="#505050" stroke-width="0.55"/>
<path d="M227.98 256.55L229.18 258.83H226.78Z" fill="#fff" stroke="#505050" stroke-width="0.55"/>
<path d="M234.36 255.96L235.56 258.24H233.16Z" fill="#fff" stroke="#505050" stroke-width="0.55"/>
<path d="M240.75 255.38L241.94 257.66H239.55Z" fill="#fff" stroke="#505050" stroke-width="0.55"/>
<path d="M247.13 254.50L248.33 256.78H245.93Z" fill="#fff" stroke="#505050" stroke-width="0.55"/>
<path d="M253.52 254.79L254.72 257.07H252.32Z" fill="#fff" stroke="#505050" stroke-width="0.55"/>
<path d="M259.90 253.92L261.10 256.20H258.70Z" fill="#fff" stroke="#505050" stroke-width="0.55"/>
<path d="M272.67 250.88L273.87 253.16H271.47Z" fill="#fff" stroke="#505050" stroke-width="0.55"/>
<path d="M285.44 250.23L286.64 252.51H284.24Z" fill="#fff" stroke="#505050" stroke-width="0.55"/>
<path d="M298.21 252.75L299.41 255.03H297.01Z" fill="#fff" stroke="#505050" stroke-width="0.55"/>
<path d="M310.98 256.55L312.18 258.83H309.78Z" fill="#fff" stroke="#505050" stroke-width="0.55"/>
<path d="M323.75 265.91L324.95 268.19H322.55Z" fill="#fff" stroke="#505050" stroke-width="0.55"/>
<circle cx="197.33" cy="263.19" r="1.15" fill="#000"/>
<circle cx="199.24" cy="263.19" r="1.15" fill="#000"/>
<circle cx="202.44" cy="263.78" r="1.15" fill="#000"/>
<circle cx="208.82" cy="264.95" r="1.15" fill="#000"/>
<circle cx="215.21" cy="263.78" r="1.15" fill="#000"/>
<circle cx="221.59" cy="263.19" r="1.15" fill="#000"/>
<circle cx="227.98" cy="266.12" r="1.15" fill="#000"/>
<circle cx="234.36" cy="269.04" r="1.15" fill="#000"/>
<circle cx="240.75" cy="271.38" r="1.15" fill="#000"/>
<circle cx="247.13" cy="274.89" r="1.15" fill="#000"/>
<circle cx="253.52" cy="277.81" r="1.15" fill="#000"/>
<circle cx="259.90" cy="278.98" r="1.15" fill="#000"/>
<circle cx="272.67" cy="283.08" r="1.15" fill="#000"/>
<circle cx="285.44" cy="291.26" r="1.15" fill="#000"/>
<circle cx="298.21" cy="294.19" r="1.15" fill="#000"/>
<circle cx="310.98" cy="298.87" r="1.15" fill="#000"/>
<circle cx="323.75" cy="307.64" r="1.15" fill="#000"/>
<circle cx="208.82" cy="264.95" r="1.15" fill="#fff" stroke="#333" stroke-width="0.55"/>
<circle cx="215.21" cy="263.78" r="1.15" fill="#fff" stroke="#333" stroke-width="0.55"/>
<circle cx="221.59" cy="263.19" r="1.15" fill="#fff" stroke="#333" stroke-width="0.55"/>
<circle cx="227.98" cy="266.70" r="1.15" fill="#fff" stroke="#333" stroke-width="0.55"/>
<circle cx="234.36" cy="267.87" r="1.15" fill="#fff" stroke="#333" stroke-width="0.55"/>
<circle cx="240.75" cy="270.21" r="1.15" fill="#fff" stroke="#333" stroke-width="0.55"/>
<circle cx="247.13" cy="272.55" r="1.15" fill="#fff" stroke="#333" stroke-width="0.55"/>
<circle cx="253.52" cy="276.06" r="1.15" fill="#fff" stroke="#333" stroke-width="0.55"/>
<circle cx="259.90" cy="277.81" r="1.15" fill="#fff" stroke="#333" stroke-width="0.55"/>
<circle cx="272.67" cy="278.40" r="1.15" fill="#fff" stroke="#333" stroke-width="0.55"/>
<circle cx="285.44" cy="284.83" r="1.15" fill="#fff" stroke="#333" stroke-width="0.55"/>
<circle cx="298.21" cy="286.58" r="1.15" fill="#fff" stroke="#333" stroke-width="0.55"/>
<circle cx="310.98" cy="288.92" r="1.15" fill="#fff" stroke="#333" stroke-width="0.55"/>
<circle cx="323.75" cy="294.19" r="1.15" fill="#fff" stroke="#333" stroke-width="0.55"/>
<text x="326.05" y="250.00" font-size="4.3" fill="#1a1a1a" stroke="#1a1a1a" stroke-width="0.08">RW1</text>
<text x="326.05" y="261.30" font-size="4.3" fill="#1a1a1a" stroke="#1a1a1a" stroke-width="0.08">Plastic Water LR</text>
<text x="326.05" y="265.20" font-size="4.3" fill="#1a1a1a" stroke="#1a1a1a" stroke-width="0.08">H2O</text>
<text x="326.05" y="268.50" font-size="4.3" fill="#1a1a1a" stroke="#1a1a1a" stroke-width="0.08">RW3</text>
<text x="326.05" y="272.20" font-size="4.3" fill="#1a1a1a" stroke="#1a1a1a" stroke-width="0.08">Plastic Water DT</text>
<text x="326.05" y="289.40" font-size="4.3" fill="#1a1a1a" stroke="#1a1a1a" stroke-width="0.08">HE Solid Water</text>
<text x="326.05" y="296.20" font-size="4.3" fill="#1a1a1a" stroke="#1a1a1a" stroke-width="0.08">Virtual Water</text>
<text x="326.05" y="309.50" font-size="4.3" fill="#1a1a1a" stroke="#1a1a1a" stroke-width="0.08">Solid Water</text>
<text x="326.05" y="350.10" font-size="4.3" fill="#1a1a1a" stroke="#1a1a1a" stroke-width="0.08">Original Plastic</text>
<text x="326.05" y="355.30" font-size="4.3" fill="#1a1a1a" stroke="#1a1a1a" stroke-width="0.08">Water 2015</text>
<text x="326.05" y="364.80" font-size="4.3" fill="#1a1a1a" stroke="#1a1a1a" stroke-width="0.08">Plastic Water 1995</text>
<text x="326.05" y="401.50" font-size="4.3" fill="#1a1a1a" stroke="#1a1a1a" stroke-width="0.08">Blue Water</text>
<text x="168" y="6.8" font-size="7.4" font-weight="bold" fill="#111" stroke="#111" stroke-width="0.2">a)</text>
<text x="164.8" y="228.2" font-size="7.4" font-weight="bold" fill="#111" stroke="#111" stroke-width="0.2">b)</text>
<text transform="translate(7.2,101.4) rotate(-90)" font-size="7.2" text-anchor="middle" fill="#262626" stroke="#262626" stroke-width="0.1" font-style="italic">g<tspan font-size="5.2" dy="1.8" dx="0.3">L</tspan><tspan dy="-1.8" dx="0.4">(r)</tspan></text>
<text transform="translate(7.2,321.6) rotate(-90)" font-size="7.2" text-anchor="middle" fill="#262626" stroke="#262626" stroke-width="0.1" font-style="italic">g<tspan font-size="5.2" dy="1.8" dx="0.3">L</tspan><tspan dy="-1.8" dx="0.4">(r)</tspan></text>
<text transform="translate(174.3,101.2) rotate(-90)" font-size="7.3" text-anchor="middle" fill="#262626" stroke="#262626" stroke-width="0.1" font-style="italic">dose<tspan font-size="5.5" dy="3.0">water,material</tspan><tspan dy="-3.0"> / dose</tspan><tspan font-size="5.5" dy="3.0">water</tspan></text>
<text transform="translate(172.0,322) rotate(-90)" font-size="7.3" text-anchor="middle" fill="#262626" stroke="#262626" stroke-width="0.1" font-style="italic">dose<tspan font-size="5.5" dy="3.0">water,material</tspan><tspan dy="-3.0"> / dose</tspan><tspan font-size="5.5" dy="3.0">water</tspan></text>
</g>
</svg>
</body></html>
